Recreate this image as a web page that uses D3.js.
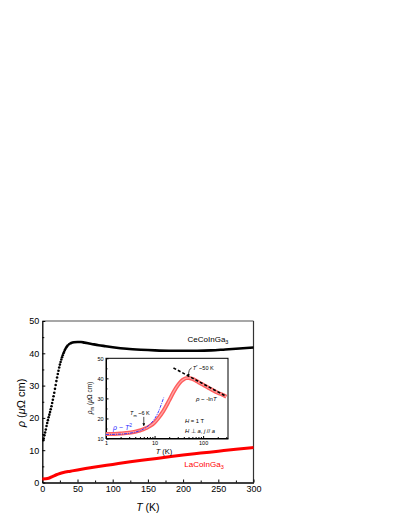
<!DOCTYPE html>
<html>
<head>
<meta charset="utf-8">
<script src="https://cdn.jsdelivr.net/npm/d3@7/dist/d3.min.js"></script>
<style>
  * { margin: 0; padding: 0; }
  body { background: #fff; width: 399px; height: 516px; overflow: hidden; }
  svg { font-family: "Liberation Sans", Arial, sans-serif; display: block; }
  .tick text { fill: #000; }
</style>
</head>
<body>
<svg id="chart" width="399" height="516"></svg>
<script>
// ---- main panel: CeCoInGa3 (dots at low T, dense line above) ----
const ceDotT   = [1.5, 2, 3, 4, 5, 6, 7, 8, 9, 10, 11, 12, 13, 14, 15, 16, 17, 18, 19, 20,
                  21, 22, 23, 24, 25, 26, 27, 28, 29, 30, 31, 32, 33, 34, 35, 36, 38, 40];
const ceDotRho = [13.1, 13.6, 14.6, 15.5, 16.4, 17.5, 18.4, 19.3, 20.2, 21.0, 21.8, 22.7, 23.6, 24.6,
                  25.6, 26.7, 27.8, 29.0, 30.2, 31.4, 32.5, 33.6, 34.6, 35.6, 36.5, 37.3, 38.1,
                  38.8, 39.4, 40.0, 40.5, 41.0, 41.4, 41.8, 42.1, 42.4, 42.8, 43.1];
const ceLineT   = [40, 45, 50, 55, 60, 70, 80, 90, 100, 120, 140, 160, 180, 200, 220, 240, 260, 280, 300];
const ceLineRho = [43.1, 43.4, 43.5, 43.5, 43.3, 42.9, 42.5, 42.2, 41.9, 41.4, 41.1, 40.9, 40.8,
                   40.8, 40.8, 40.9, 41.2, 41.5, 41.8];

// ---- main panel: LaCoInGa3 ----
const laT   = [0, 5, 10, 15, 20, 25, 30, 40, 50, 75, 100, 125, 150, 175, 200, 225, 250, 275, 300];
const laRho = [1.1, 1.15, 1.4, 1.9, 2.4, 2.8, 3.1, 3.5, 3.9, 4.8, 5.6, 6.4, 7.1, 7.8, 8.5, 9.1, 9.7, 10.3, 10.8];

// ---- inset: magnetic resistivity rho_m vs log T ----
const magT   = [1, 1.5, 2, 3, 4, 5, 6, 7, 8, 10, 12, 15, 20, 25, 30, 35, 40, 45, 50, 60, 70, 80,
                100, 130, 160, 200, 250, 300];
const magRho = [12.2, 12.3, 12.5, 12.9, 13.4, 14.0, 14.7, 15.4, 16.2, 18.0, 20.2, 23.5, 29.0, 33.5,
                36.5, 38.5, 39.6, 40.1, 40.2, 39.7, 38.9, 38.1, 36.8, 35.2, 34.0, 32.8, 31.8, 30.8];
// rho ~ T^2 fit (blue dashed)
const fitT2T   = [1, 2, 3, 4, 5, 6, 7, 8, 10, 12, 14, 15.4];
const fitT2Rho = [12.0, 12.2, 12.6, 13.2, 13.9, 14.8, 15.8, 17.0, 19.8, 23.3, 27.5, 30.4];
// rho ~ -lnT (black dashed)
const fitLnT   = [24.5, 300];
const fitLnRho = [45.2, 31.0];

const mainXTicks = [0, 50, 100, 150, 200, 250, 300];
const mainYTicks = [0, 10, 20, 30, 40, 50];
const insetXTicks = [1, 10, 100];
const insetYTicks = [10, 20, 30, 40, 50];

const zip = (a, b) => a.map((v, i) => [v, b[i]]);

const svg = d3.select("#chart");

// ---------- main panel ----------
const x = d3.scaleLinear().domain([0, 300]).range([42.3, 253.5]);
const y = d3.scaleLinear().domain([0, 50]).range([482.5, 321]);

// frame (top gray, right dark)
svg.append("line").attr("x1", x(0)).attr("x2", x(300)).attr("y1", y(50)).attr("y2", y(50))
  .attr("stroke", "#8a8a8a").attr("stroke-width", 1.3);
svg.append("line").attr("x1", x(300)).attr("x2", x(300)).attr("y1", y(50)).attr("y2", y(0))
  .attr("stroke", "#333").attr("stroke-width", 1.2);

const minorX = d3.range(25, 300, 50);
const minorY = d3.range(5, 50, 10);

const xAxis = svg.append("g").attr("transform", `translate(0,${y(0)})`)
  .call(d3.axisBottom(x).tickValues(mainXTicks).tickSize(-3).tickPadding(3).tickSizeOuter(0));
svg.append("g").attr("transform", `translate(0,${y(0)})`)
  .call(d3.axisBottom(x).tickValues(minorX).tickSize(-2).tickFormat("").tickSizeOuter(0))
  .select(".domain").remove();
const yAxis = svg.append("g").attr("transform", `translate(${x(0)},0)`)
  .call(d3.axisLeft(y).tickValues(mainYTicks).tickSize(-3).tickPadding(3).tickSizeOuter(0));
svg.append("g").attr("transform", `translate(${x(0)},0)`)
  .call(d3.axisLeft(y).tickValues(minorY).tickSize(-2).tickFormat("").tickSizeOuter(0))
  .select(".domain").remove();

[xAxis, yAxis].forEach(g => {
  g.selectAll("text").attr("font-size", 9).attr("font-family", "Liberation Sans, Arial, sans-serif");
  g.select(".domain").attr("stroke-width", 1.3);
});
xAxis.selectAll("text").attr("dy", "0.75em");

// axis titles
svg.append("text").attr("x", x(150)).attr("y", 511).attr("text-anchor", "middle")
  .attr("font-size", 10.5)
  .call(t => { t.append("tspan").attr("font-style", "italic").text("T"); t.append("tspan").text(" (K)"); });

svg.append("text").attr("transform", "translate(25,403) rotate(-90)").attr("text-anchor", "middle")
  .attr("font-size", 11)
  .call(t => {
    t.append("tspan").attr("font-style", "italic").text("ρ");
    t.append("tspan").text(" (");
    t.append("tspan").attr("font-style", "italic").text("μ");
    t.append("tspan").text("Ω cm)");
  });

// La curve
svg.append("path").datum(zip(laT, laRho))
  .attr("fill", "none").attr("stroke", "#ff0000").attr("stroke-width", 3)
  .attr("d", d3.line().x(d => x(d[0])).y(d => y(d[1])).curve(d3.curveMonotoneX));

// Ce curve
svg.append("path").datum(zip(ceLineT, ceLineRho))
  .attr("fill", "none").attr("stroke", "#000").attr("stroke-width", 2.6)
  .attr("d", d3.line().x(d => x(d[0])).y(d => y(d[1])).curve(d3.curveMonotoneX));
svg.append("g").selectAll("circle").data(zip(ceDotT, ceDotRho)).join("circle")
  .attr("cx", d => x(d[0])).attr("cy", d => y(d[1])).attr("r", 1.3).attr("fill", "#000");

// labels
svg.append("text").attr("x", 208).attr("y", 342).attr("text-anchor", "middle").attr("font-size", 8)
  .call(t => { t.append("tspan").text("CeCoInGa"); t.append("tspan").attr("font-size", 5.5).attr("dy", 2).text("3"); });
svg.append("text").attr("x", 204).attr("y", 467).attr("text-anchor", "middle").attr("font-size", 8)
  .attr("fill", "#ff0000")
  .call(t => { t.append("tspan").text("LaCoInGa"); t.append("tspan").attr("font-size", 5.5).attr("dy", 2).text("3"); });

// ---------- inset ----------
const xi = d3.scaleLog().domain([1, 325]).range([106, 228]);
const yi = d3.scaleLinear().domain([10, 50]).range([438.5, 358.3]);

svg.append("rect").attr("x", xi(1)).attr("y", yi(50)).attr("width", xi(325) - xi(1))
  .attr("height", yi(10) - yi(50)).attr("fill", "#fff").attr("stroke", "#000").attr("stroke-width", 1);

const ixMinor = [2, 3, 4, 5, 6, 7, 8, 9, 20, 30, 40, 50, 60, 70, 80, 90, 200, 300];
const ixAxis = svg.append("g").attr("transform", `translate(0,${yi(10)})`)
  .call(d3.axisBottom(xi).tickValues(insetXTicks).tickFormat(d3.format("d")).tickSize(-2.5).tickPadding(2).tickSizeOuter(0));
svg.append("g").attr("transform", `translate(0,${yi(10)})`)
  .call(d3.axisBottom(xi).tickValues(ixMinor).tickFormat("").tickSize(-1.5).tickSizeOuter(0))
  .select(".domain").remove();
const iyAxis = svg.append("g").attr("transform", `translate(${xi(1)},0)`)
  .call(d3.axisLeft(yi).tickValues(insetYTicks).tickSize(-2.5).tickPadding(2.5).tickSizeOuter(0));
svg.append("g").attr("transform", `translate(${xi(1)},0)`)
  .call(d3.axisLeft(yi).tickValues([15, 25, 35, 45]).tickFormat("").tickSize(-1.5).tickSizeOuter(0))
  .select(".domain").remove();
[ixAxis, iyAxis].forEach(g => {
  g.selectAll("text").attr("font-size", 5.5).attr("font-family", "Liberation Sans, Arial, sans-serif");
  g.select(".domain").attr("stroke-width", 1);
});
ixAxis.selectAll("text").attr("dy", "0.75em");

svg.append("text").attr("x", 164).attr("y", 453.5).attr("text-anchor", "middle").attr("font-size", 7.5)
  .call(t => { t.append("tspan").attr("font-style", "italic").text("T"); t.append("tspan").text(" (K)"); });
svg.append("text").attr("transform", "translate(92,398) rotate(-90)").attr("text-anchor", "middle")
  .attr("font-size", 6.5)
  .call(t => {
    t.append("tspan").attr("font-style", "italic").text("ρ");
    t.append("tspan").attr("font-size", 4.5).attr("dy", 1.5).text("m");
    t.append("tspan").attr("dy", -1.5).text(" (");
    t.append("tspan").attr("font-style", "italic").text("μ");
    t.append("tspan").text("Ω cm)");
  });

const lineI = d3.line().x(d => xi(d[0])).y(d => yi(d[1]));

svg.append("path").datum(zip(magT, magRho))
  .attr("fill", "none").attr("stroke", "#ff5e5e").attr("stroke-width", 4)
  .attr("stroke-linejoin", "round")
  .attr("d", lineI.curve(d3.curveMonotoneX));
svg.append("path").datum(zip(magT, magRho))
  .attr("fill", "none").attr("stroke", "#ffa8a8").attr("stroke-width", 1.2)
  .attr("d", lineI.curve(d3.curveMonotoneX));

svg.append("path").datum(zip(fitT2T, fitT2Rho))
  .attr("fill", "none").attr("stroke", "#2a2aff").attr("stroke-width", 0.9)
  .attr("stroke-dasharray", "3,1,1,1")
  .attr("d", d3.line().x(d => xi(d[0])).y(d => yi(d[1])).curve(d3.curveMonotoneX));

svg.append("path").datum(zip(fitLnT, fitLnRho))
  .attr("fill", "none").attr("stroke", "#000").attr("stroke-width", 1.6)
  .attr("stroke-dasharray", "3,2")
  .attr("d", d3.line().x(d => xi(d[0])).y(d => yi(d[1])));

// annotations
svg.append("defs").append("marker").attr("id", "ah").attr("viewBox", "0 0 6 6")
  .attr("refX", 5).attr("refY", 3).attr("markerWidth", 4).attr("markerHeight", 4).attr("orient", "auto")
  .append("path").attr("d", "M0,0 L6,3 L0,6 Z").attr("fill", "#000");

svg.append("path")
  .attr("d", `M${xi(58)},${yi(45.2)} C${xi(52)},${yi(44.8)} ${xi(50)},${yi(43.5)} ${xi(50)},${yi(41.2)}`)
  .attr("fill", "none").attr("stroke", "#000").attr("stroke-width", 0.7).attr("marker-end", "url(#ah)");
svg.append("text").attr("x", xi(58) + 1).attr("y", yi(45.2) + 2).attr("font-size", 5.5)
  .call(t => {
    t.append("tspan").attr("font-style", "italic").text("T");
    t.append("tspan").attr("font-size", 4).attr("dy", -2).text("*");
    t.append("tspan").attr("dy", 2).text(" ~50 K");
  });

svg.append("text").attr("x", 196).attr("y", 401).attr("font-size", 6)
  .call(t => {
    t.append("tspan").attr("font-style", "italic").text("ρ");
    t.append("tspan").text(" ~ -ln");
    t.append("tspan").attr("font-style", "italic").text("T");
  });

svg.append("text").attr("x", 130).attr("y", 415).attr("font-size", 5.5)
  .call(t => {
    t.append("tspan").attr("font-style", "italic").text("T");
    t.append("tspan").attr("font-size", 4).attr("dy", 1.5).text("m");
    t.append("tspan").attr("dy", -1.5).text(" ~6 K");
  });
svg.append("line").attr("x1", xi(6)).attr("x2", xi(6)).attr("y1", yi(20.8)).attr("y2", yi(16.4))
  .attr("stroke", "#000").attr("stroke-width", 0.7).attr("marker-end", "url(#ah)");

svg.append("text").attr("x", 113).attr("y", 430).attr("font-size", 7).attr("fill", "#2a2aff")
  .call(t => {
    t.append("tspan").attr("font-style", "italic").text("ρ");
    t.append("tspan").text(" ~ ");
    t.append("tspan").attr("font-style", "italic").text("T");
    t.append("tspan").attr("font-size", 5).attr("dy", -3).text("2");
  });

svg.append("text").attr("x", 185).attr("y", 423).attr("font-size", 5.8)
  .call(t => {
    t.append("tspan").attr("font-style", "italic").text("H");
    t.append("tspan").text(" = 1 T");
  });
svg.append("text").attr("x", 185).attr("y", 433).attr("font-size", 5.8)
  .call(t => {
    t.append("tspan").attr("font-style", "italic").text("H");
    t.append("tspan").text(" ⊥ ");
    t.append("tspan").attr("font-style", "italic").text("a");
    t.append("tspan").text(", ");
    t.append("tspan").attr("font-style", "italic").text("j");
    t.append("tspan").text(" // ");
    t.append("tspan").attr("font-style", "italic").text("a");
  });
</script>
</body>
</html>
